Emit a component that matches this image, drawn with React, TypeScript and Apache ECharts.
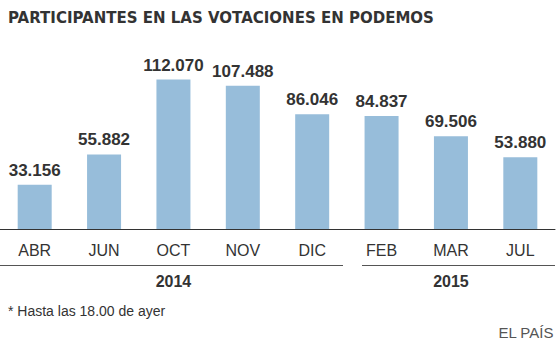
import React, { useEffect, useRef } from "react";
import * as echarts from "echarts";

const categories = ["ABR", "JUN", "OCT", "NOV", "DIC", "FEB", "MAR", "JUL"];
const participants = [33156, 55882, 112070, 107488, 86046, 84837, 69506, 53880];
const years = ["2014", "2015"];
const yearSpans = [5, 3];
const titleText = "PARTICIPANTES EN LAS VOTACIONES EN PODEMOS";
const footnote = "* Hasta las 18.00 de ayer";
const source = "EL PAÍS";

const fmt = (v: number) => String(v).replace(/\B(?=(\d{3})+(?!\d))/g, ".");

export default function App() {
  const ref = useRef<HTMLDivElement>(null);
  useEffect(() => {
    document.body.style.margin = "0";
    const chart = echarts.init(ref.current!, null, { renderer: "svg" });
    const sans = "'Liberation Sans', Arial, sans-serif";
    chart.setOption({
      animation: false,
      backgroundColor: "#ffffff",
      grid: { left: 0, right: 5, top: 69, bottom: 123, containLabel: false },
      xAxis: {
        type: "category",
        data: categories,
        boundaryGap: true,
        axisTick: { show: false },
        axisLine: { lineStyle: { color: "#333", width: 1 } },
        axisLabel: { color: "#333", fontSize: 16, fontFamily: sans, margin: 13 },
      },
      yAxis: {
        type: "value",
        min: 0,
        max: 120000,
        show: false,
        splitLine: { show: false },
      },
      series: [
        {
          type: "bar",
          data: participants,
          barWidth: 34,
          itemStyle: { color: "#97bdda" },
          label: {
            show: true,
            position: "top",
            distance: 6,
            color: "#333",
            fontSize: 17,
            fontWeight: "bold",
            fontFamily: sans,
            formatter: (p: any) => fmt(p.value),
          },
        },
      ],
    });

    const graphics: any[] = [
      {
        type: "text",
        left: 8,
        top: 10,
        style: {
          text: titleText,
          fill: "#333",
          font: "bold 15px 'DejaVu Sans', Verdana, sans-serif",
        },
      },
      {
        type: "text",
        left: 8,
        top: 304,
        style: { text: footnote, fill: "#333", font: `14px ${sans}` },
      },
      {
        type: "text",
        right: 6,
        top: 325,
        style: { text: source, fill: "#555", font: `15px ${sans}` },
      },
    ];
    const yearLines = [
      [0, 343],
      [362, 555],
    ];
    let start = 0;
    years.forEach((y, i) => {
      const span = yearSpans[i];
      const mid = start + (span - 1) / 2;
      const lo = Math.floor(mid);
      const hi = Math.ceil(mid);
      const xa = chart.convertToPixel({ xAxisIndex: 0 }, categories[lo]) as number;
      const xb = chart.convertToPixel({ xAxisIndex: 0 }, categories[hi]) as number;
      const cx = (xa + xb) / 2;
      graphics.push({
        type: "line",
        shape: { x1: yearLines[i][0], y1: 265.5, x2: yearLines[i][1], y2: 265.5 },
        style: { stroke: "#555", lineWidth: 1 },
      });
      graphics.push({
        type: "text",
        x: cx,
        y: 281,
        style: {
          text: y,
          fill: "#333",
          font: `bold 16px ${sans}`,
          textAlign: "center",
          textVerticalAlign: "middle",
        },
      });
      start += span;
    });
    chart.setOption({ graphic: graphics });
    return () => chart.dispose();
  }, []);
  return <div ref={ref} style={{ width: 560, height: 352 }} />;
}
